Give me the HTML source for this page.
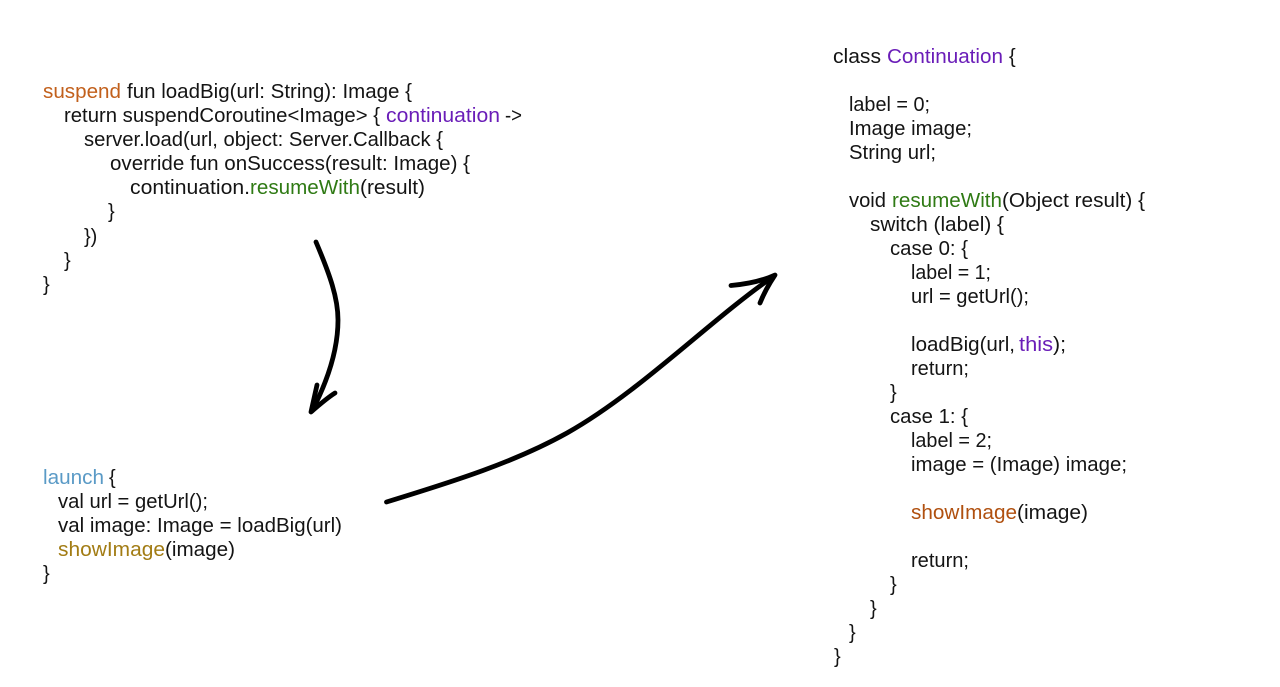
<!DOCTYPE html>
<html>
<head>
<meta charset="utf-8">
<style>
html,body{margin:0;padding:0;background:#fff;width:1280px;height:687px;overflow:hidden}
svg{display:block}
text{font-family:"Liberation Sans",sans-serif;font-size:20px;fill:#141414;white-space:pre}
.o{fill:#c2601c}.p{fill:#6a1db8}.g{fill:#2f7a14}.b{fill:#5a9ac6}.y{fill:#a27c14}.r{fill:#b0500f}
</style>
</head>
<body>
<svg width="1280" height="687" viewBox="0 0 1280 687" xmlns="http://www.w3.org/2000/svg">
<rect width="1280" height="687" fill="#fff"/>

<text x="43" y="98" class="o" textLength="78" lengthAdjust="spacingAndGlyphs">suspend</text>
<text x="127" y="98" textLength="285" lengthAdjust="spacingAndGlyphs">fun loadBig(url: String): Image {</text>
<text x="64" y="122" textLength="316" lengthAdjust="spacingAndGlyphs">return suspendCoroutine&lt;Image&gt; {</text>
<text x="386" y="122" class="p" textLength="114" lengthAdjust="spacingAndGlyphs">continuation</text>
<text x="505" y="122" textLength="17" lengthAdjust="spacingAndGlyphs">-&gt;</text>
<text x="84" y="146" textLength="359" lengthAdjust="spacingAndGlyphs">server.load(url, object: Server.Callback {</text>
<text x="110" y="170" textLength="360" lengthAdjust="spacingAndGlyphs">override fun onSuccess(result: Image) {</text>
<text x="130" y="194" textLength="120" lengthAdjust="spacingAndGlyphs">continuation.</text>
<text x="250" y="194" class="g" textLength="110" lengthAdjust="spacingAndGlyphs">resumeWith</text>
<text x="360" y="194" textLength="65" lengthAdjust="spacingAndGlyphs">(result)</text>
<text x="108" y="218">}</text>
<text x="84" y="243">})</text>
<text x="64" y="267">}</text>
<text x="43" y="291">}</text>

<text x="43" y="484" class="b" textLength="61" lengthAdjust="spacingAndGlyphs">launch</text>
<text x="109" y="484">{</text>
<text x="58" y="508" textLength="150" lengthAdjust="spacingAndGlyphs">val url = getUrl();</text>
<text x="58" y="532" textLength="284" lengthAdjust="spacingAndGlyphs">val image: Image = loadBig(url)</text>
<text x="58" y="556" class="y" textLength="107" lengthAdjust="spacingAndGlyphs">showImage</text>
<text x="165" y="556" textLength="70" lengthAdjust="spacingAndGlyphs">(image)</text>
<text x="43" y="580">}</text>

<text x="833" y="63" textLength="48" lengthAdjust="spacingAndGlyphs">class</text>
<text x="887" y="63" class="p" textLength="116" lengthAdjust="spacingAndGlyphs">Continuation</text>
<text x="1009" y="63">{</text>
<text x="849" y="111" textLength="81" lengthAdjust="spacingAndGlyphs">label = 0;</text>
<text x="849" y="135" textLength="123" lengthAdjust="spacingAndGlyphs">Image image;</text>
<text x="849" y="159" textLength="87" lengthAdjust="spacingAndGlyphs">String url;</text>
<text x="849" y="207" textLength="37" lengthAdjust="spacingAndGlyphs">void</text>
<text x="892" y="207" class="g" textLength="110" lengthAdjust="spacingAndGlyphs">resumeWith</text>
<text x="1002" y="207" textLength="143" lengthAdjust="spacingAndGlyphs">(Object result) {</text>
<text x="870" y="231" textLength="134" lengthAdjust="spacingAndGlyphs">switch (label) {</text>
<text x="890" y="255" textLength="78" lengthAdjust="spacingAndGlyphs">case 0: {</text>
<text x="911" y="279" textLength="80" lengthAdjust="spacingAndGlyphs">label = 1;</text>
<text x="911" y="303" textLength="118" lengthAdjust="spacingAndGlyphs">url = getUrl();</text>
<text x="911" y="351" textLength="104" lengthAdjust="spacingAndGlyphs">loadBig(url,</text>
<text x="1019" y="351" class="p" textLength="34" lengthAdjust="spacingAndGlyphs">this</text>
<text x="1053" y="351" textLength="13" lengthAdjust="spacingAndGlyphs">);</text>
<text x="911" y="375" textLength="58" lengthAdjust="spacingAndGlyphs">return;</text>
<text x="890" y="399">}</text>
<text x="890" y="423" textLength="78" lengthAdjust="spacingAndGlyphs">case 1: {</text>
<text x="911" y="447" textLength="81" lengthAdjust="spacingAndGlyphs">label = 2;</text>
<text x="911" y="471" textLength="216" lengthAdjust="spacingAndGlyphs">image = (Image) image;</text>
<text x="911" y="519" class="r" textLength="106" lengthAdjust="spacingAndGlyphs">showImage</text>
<text x="1017" y="519" textLength="71" lengthAdjust="spacingAndGlyphs">(image)</text>
<text x="911" y="567" textLength="58" lengthAdjust="spacingAndGlyphs">return;</text>
<text x="890" y="591">}</text>
<text x="870" y="615">}</text>
<text x="849" y="639">}</text>
<text x="834" y="663">}</text>

<g fill="none" stroke="#000" stroke-width="4.8" stroke-linecap="round" stroke-linejoin="round">
<path d="M316 242C330 275 338 298 338 320C338 352 326 384 312 411"/>
<path d="M317 385C315 394 313 403 311 412C319 405 327 398 335 393"/>
<path d="M386.5 502C455 481 515 462 567 433C640 392 710 320 774 276"/>
<path d="M731 285.5C748 284 762 281 775 275C769 284 764 293 760 303"/>
</g>
</svg>
</body>
</html>
